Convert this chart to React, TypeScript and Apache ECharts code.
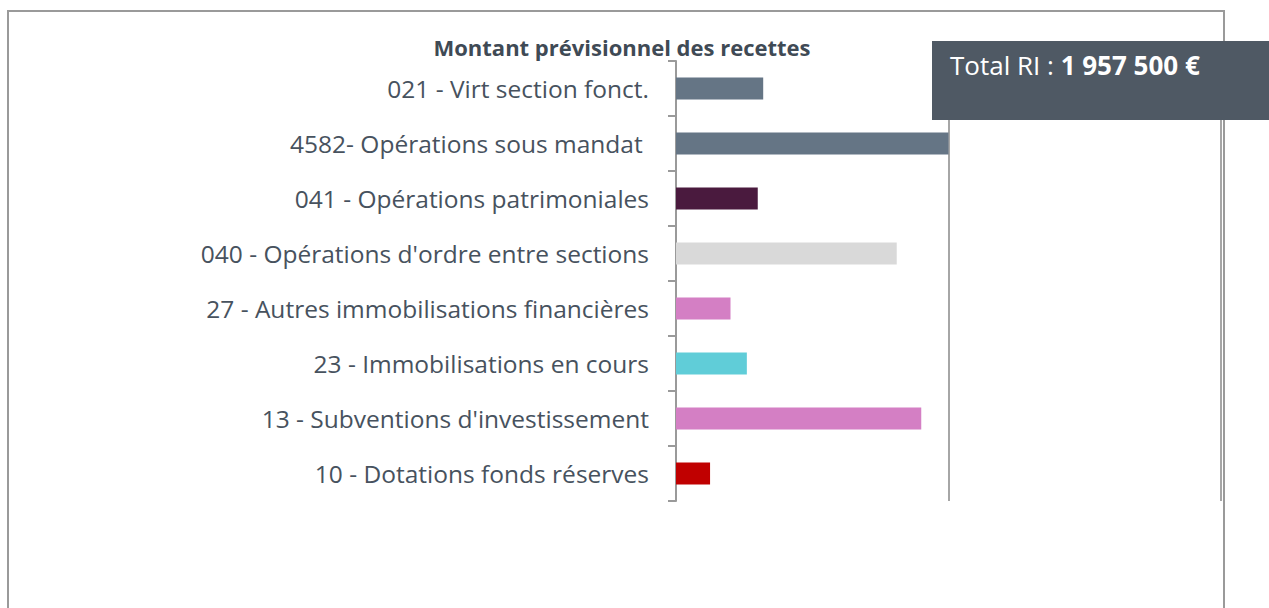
import React, { useEffect, useRef } from "react";
import * as echarts from "echarts";

const categories = [
  "021 - Virt section fonct.",
  "4582- Opérations sous mandat ",
  "041 - Opérations patrimoniales",
  "040 - Opérations d'ordre entre sections",
  "27 - Autres immobilisations financières",
  "23 - Immobilisations en cours",
  "13 - Subventions d'investissement",
  "10 - Dotations fonds réserves",
];
const values = [160000, 500000, 150000, 405000, 100000, 130000, 450000, 62500];
const colors = ["#657585", "#657585", "#4a1a3e", "#d9d9d9", "#d47fc4", "#60cdd8", "#d47fc4", "#c00000"];
const titleText = "Montant prévisionnel des recettes";
const totalLabel = "Total RI : ";
const totalValue = "1 957 500 €";

export default function App() {
  const ref = useRef<HTMLDivElement>(null);
  useEffect(() => {
    if (!ref.current) return;
    const chart = echarts.init(ref.current, null, { renderer: "svg" });
    const font = "'Open Sans', sans-serif";
    chart.setOption({
      animation: false,
      title: {
        text: titleText,
        left: 617,
        top: 31,
        textAlign: "center",
        textStyle: { fontFamily: font, fontSize: 22, fontWeight: "bold", color: "#3f4a55" },
      },
      grid: { left: 676, right: 48, top: 61, bottom: 107, containLabel: false },
      xAxis: {
        type: "value",
        min: 0,
        max: 1000000,
        interval: 500000,
        axisLabel: { show: false },
        axisLine: { show: false },
        axisTick: { show: false },
        splitLine: { show: true, lineStyle: { color: "#a6a6a6", width: 2 } },
      },
      yAxis: {
        type: "category",
        data: categories,
        inverse: true,
        axisLine: { show: true, lineStyle: { color: "#9a9a9a", width: 2 } },
        axisTick: { show: true, length: 8, lineStyle: { color: "#9a9a9a", width: 2 } },
        axisLabel: {
          margin: 27,
          fontFamily: font,
          fontSize: 24.5,
          color: "#47525e",
        },
      },
      series: [
        {
          type: "bar",
          data: values.map((v, i) => ({ value: v, itemStyle: { color: colors[i] } })),
          barWidth: 22,
        },
      ],
      graphic: [
        {
          type: "rect",
          shape: { x: 8, y: 11, width: 1216, height: 700 },
          style: { fill: "none", stroke: "#9a9a9a", lineWidth: 2 },
          silent: true,
          z: 0,
        },
        {
          type: "rect",
          shape: { x: 932, y: 41, width: 337, height: 79 },
          style: { fill: "#4f5964" },
          z: 100,
        },
        {
          type: "text",
          x: 950,
          y: 65,
          z: 101,
          style: {
            text: "{a|" + totalLabel + "}{b|" + totalValue + "}",
            fill: "#ffffff",
            verticalAlign: "middle",
            rich: {
              a: { fontFamily: font, fontSize: 26, fill: "#ffffff" },
              b: { fontFamily: font, fontSize: 26, fill: "#ffffff", fontWeight: "bold" },
            },
          },
        },
      ],
    });
    return () => chart.dispose();
  }, []);
  return (
    <div
      ref={ref}
      style={{ position: "fixed", left: 0, top: 0, width: 1269, height: 608, background: "#fff" }}
    />
  );
}
